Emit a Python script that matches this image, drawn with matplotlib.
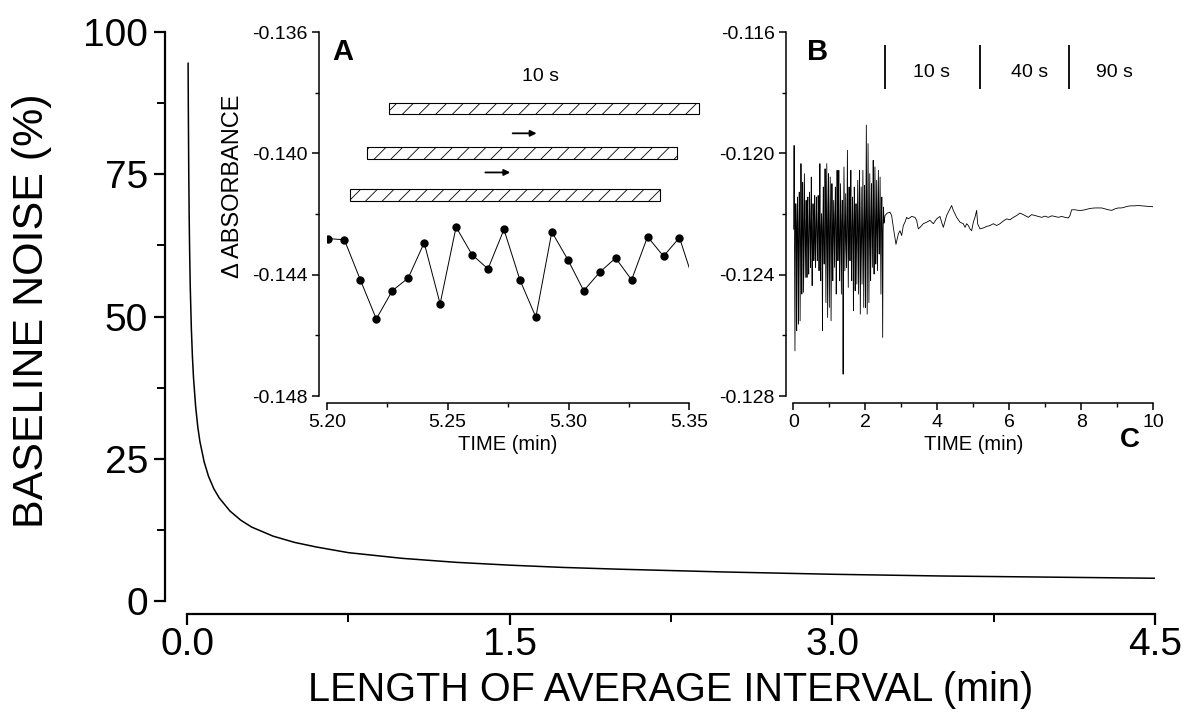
import numpy as np
import matplotlib.pyplot as plt
from matplotlib.patches import Rectangle
from matplotlib.ticker import MultipleLocator

plt.rcParams['font.family'] = ['Liberation Sans', 'DejaVu Sans']
plt.rcParams['hatch.linewidth'] = 0.6

# main plot: noise vs length of average interval
interval_min = [0.005, 0.006, 0.008, 0.01, 0.012, 0.015, 0.02, 0.025, 0.03, 0.04,
                0.05, 0.06, 0.08, 0.1, 0.125, 0.15, 0.2, 0.25, 0.3, 0.4, 0.5, 0.6,
                0.75, 1.0, 1.25, 1.5, 1.75, 2.0, 2.5, 3.0, 3.5, 4.0, 4.5]
noise_pct = [94.5, 86.8, 75.3, 67.5, 61.7, 55.2, 48.0, 43.0, 39.3, 34.2,
             30.6, 28.0, 24.4, 21.9, 19.7, 18.1, 15.8, 14.2, 13.0, 11.4, 10.3, 9.5,
             8.5, 7.5, 6.8, 6.3, 5.9, 5.6, 5.1, 4.7, 4.4, 4.2, 4.0]

# inset A: sampled absorbance
time_a = [5.2007, 5.2073, 5.2139, 5.2205, 5.2271, 5.2337, 5.2403, 5.2469, 5.2535,
          5.2601, 5.2667, 5.2733, 5.2799, 5.2865, 5.2931, 5.2997, 5.3063, 5.3129,
          5.3195, 5.3261, 5.3327, 5.3393, 5.3459, 5.3525]
abs_a = [-0.14281, -0.14285, -0.14417, -0.14546, -0.14453, -0.14411, -0.14295,
         -0.14496, -0.14243, -0.14334, -0.14381, -0.14251, -0.14417, -0.14540,
         -0.14259, -0.14350, -0.14453, -0.14392, -0.14345, -0.14417, -0.14275,
         -0.14339, -0.14278, -0.14440]
# 10 s averaging windows
win_start = [5.2259, 5.2167, 5.2096]
win_end = [5.3541, 5.3448, 5.3379]
win_low = [-0.13871, -0.14020, -0.14158]
win_high = [-0.13833, -0.13980, -0.14118]
arrow_x0 = [5.2769, 5.2656]
arrow_x1 = [5.2868, 5.2759]
arrow_y = [-0.13934, -0.14063]

# inset B: raw trace (first 2.5 min, 1e-5 absorbance units), then averaged part
noise_e5 = [
    -12250, -11974, -12300, -12651, -12280, -12166, -12230, -12585, -12260,
    -12144, -12310, -12563, -12240, -12128, -12270, -12552, -12300,
    -12034, -12220, -12464, -12250, -12095, -12290, -12458, -12230,
    -12067, -12260, -12409, -12280, -12155, -12240, -12409, -12200,
    -12144, -12300, -12398, -12250, -12128, -12220, -12376, -12270,
    -12078, -12290, -12436, -12240, -12166, -12210, -12354, -12260,
    -12139, -12300, -12376, -12230, -12144, -12250, -12354, -12280,
    -12139, -12220, -12387, -12260, -12034, -12300, -12420, -12240,
    -12199, -12270, -12585, -12230, -12111, -12300, -12365, -12250,
    -12051, -12210, -12492, -12280, -12034, -12260, -12541, -12220,
    -12067, -12290, -12508, -12250, -12078, -12240, -12552, -12300,
    -12100, -12230, -12420, -12260, -12155, -12280, -12376, -12210,
    -12111, -12250, -12464, -12290, -12056, -12230, -12354, -12260,
    -12056, -12300, -12420, -12240, -12100, -12270, -12464, -12220,
    -12155, -12250, -12728, -12290, -12045, -12230, -12387, -12260,
    -12133, -12300, -12376, -12240, -11990, -12220, -12442, -12270,
    -12111, -12260, -12354, -12230, -12056, -12290, -12420, -12250,
    -12144, -12240, -12519, -12280, -12111, -12220, -12453, -12260,
    -12166, -12300, -12431, -12240, -12089, -12250, -12464, -12270,
    -12056, -12230, -12530, -12290, -12111, -12260, -12431, -12220,
    -12056, -12280, -12508, -12250, -12106, -12240, -12508, -12230,
    -11907, -12260, -12530, -12270, -11968, -12230, -12492, -12250,
    -12067, -12280, -12420, -12220, -12100, -12250, -12376, -12240,
    -12023, -12270, -12398, -12230, -12045, -12220, -12365, -12260,
    -12089, -12250, -12387, -12240, -12056, -12230, -12332, -12210,
    -12078, -12260, -12464, -12230, -12144, -12250, -12607, -12260,
    -12177, -12230, -12221]
noise_t0, noise_t1 = 0.01, 2.53

avg_t = [2.547, 2.611, 2.686, 2.731, 2.778, 2.852, 2.917, 2.963, 3.009, 3.056,
         3.102, 3.148, 3.194, 3.287, 3.380, 3.426, 3.472, 3.519, 3.611, 3.704,
         3.796, 3.889, 3.981, 4.074, 4.120, 4.167, 4.259, 4.352, 4.398, 4.444,
         4.537, 4.630, 4.722, 4.769, 4.815, 4.861, 4.907, 4.954, 5.000, 5.046,
         5.093, 5.120, 5.185, 5.278, 5.370, 5.463, 5.556, 5.648, 5.741, 5.833,
         5.926, 6.019, 6.111, 6.204, 6.296, 6.389, 6.528, 6.620, 6.713, 6.806,
         6.898, 6.991, 7.083, 7.176, 7.269, 7.361, 7.454, 7.546, 7.639, 7.685,
         7.731, 7.824, 7.917, 8.009, 8.102, 8.194, 8.287, 8.380, 8.472, 8.565,
         8.657, 8.750, 8.843, 8.935, 9.028, 9.120, 9.213, 9.306, 9.398, 9.491,
         9.583, 9.676, 9.769, 9.861, 9.954, 10.0]
avg_e5 = [-12205, -12197, -12194, -12205, -12244, -12300, -12266, -12255, -12271, -12238,
          -12227, -12211, -12216, -12208, -12211, -12221, -12249, -12244, -12232, -12227,
          -12221, -12232, -12216, -12208, -12227, -12244, -12205, -12183, -12172, -12188,
          -12211, -12227, -12232, -12244, -12232, -12238, -12249, -12255, -12227, -12211,
          -12188, -12232, -12249, -12246, -12241, -12238, -12232, -12238, -12232, -12223,
          -12216, -12219, -12211, -12205, -12197, -12202, -12211, -12202, -12205, -12208,
          -12211, -12207, -12211, -12206, -12208, -12211, -12208, -12211, -12213, -12205,
          -12186, -12186, -12188, -12188, -12186, -12183, -12181, -12180, -12180, -12180,
          -12183, -12186, -12188, -12183, -12180, -12180, -12177, -12174, -12173, -12173,
          -12172, -12173, -12174, -12175, -12175, -12177]
marker_t = [2.56, 5.19, 7.67]
marker_labels = ['10 s', '40 s', '90 s']
label_t = [3.85, 6.57, 8.92]

fig = plt.figure(figsize=(11.89, 7.16), dpi=100)

# ---- main axes
ax = fig.add_axes([0.1573, 0.1606, 0.8141, 0.7947])
ax.plot(interval_min, noise_pct, color='black', lw=1.1)
ax.set_xlim(0, 4.5)
ax.set_ylim(0, 100)
ax.spines[['top', 'right']].set_visible(False)
ax.spines['left'].set_position(('outward', 16))
ax.spines['bottom'].set_position(('outward', 9))
for s in ('left', 'bottom'):
    ax.spines[s].set_linewidth(1.6)
ax.xaxis.set_major_locator(MultipleLocator(1.5))
ax.xaxis.set_minor_locator(MultipleLocator(0.75))
ax.yaxis.set_major_locator(MultipleLocator(25))
ax.yaxis.set_minor_locator(MultipleLocator(12.5))
ax.xaxis.set_major_formatter(plt.FuncFormatter(lambda v, p: f'{v:.1f}'))
ax.tick_params(which='major', direction='out', length=8, width=1.6, labelsize=28, pad=2)
ax.tick_params(which='minor', direction='out', length=5.5, width=1.4)
ax.tick_params(axis='y', which='major', pad=4)
ax.set_xlabel('LENGTH OF AVERAGE INTERVAL (min)', fontsize=28.5)
ax.set_ylabel('BASELINE NOISE (%)', fontsize=31)
ax.xaxis.set_label_coords(0.5, -0.123)
ax.yaxis.set_label_coords(-0.139, 0.51)
ax.patch.set_visible(False)
fig.text(1130 / 1189, 1 - 440 / 716, 'C', fontsize=20, fontweight='bold',
         ha='center', va='center')


def style_inset(a):
    a.patch.set_visible(False)
    a.spines[['top', 'right']].set_visible(False)
    a.spines['left'].set_position(('outward', 5.5))
    a.spines['bottom'].set_position(('outward', 5))
    for s in ('left', 'bottom'):
        a.spines[s].set_linewidth(1.1)
    a.tick_params(which='major', direction='out', length=5, width=1.1, labelsize=14, pad=3)
    a.tick_params(which='minor', direction='out', length=3, width=1.0)
    a.set_xlabel('TIME (min)', fontsize=14.5, labelpad=3)


# ---- inset A
axa = fig.add_axes([0.2748, 0.4469, 0.3050, 0.5084])
style_inset(axa)
axa.plot(time_a, abs_a, color='black', lw=0.7, marker='o', ms=5, mfc='black', mec='black')
axa.set_xlim(5.20, 5.35)
axa.set_ylim(-0.148, -0.136)
axa.xaxis.set_major_locator(MultipleLocator(0.05))
axa.xaxis.set_minor_locator(MultipleLocator(0.025))
axa.yaxis.set_major_locator(MultipleLocator(0.004))
axa.yaxis.set_minor_locator(MultipleLocator(0.002))
axa.xaxis.set_major_formatter(plt.FuncFormatter(lambda v, p: f'{v:.2f}'))
axa.yaxis.set_major_formatter(plt.FuncFormatter(lambda v, p: f'{v:.3f}'))
axa.set_ylabel('\u0394 ABSORBANCE', fontsize=17)
axa.yaxis.set_label_coords(-0.228, 0.577)
for x0, x1, lo, hi in zip(win_start, win_end, win_low, win_high):
    axa.add_patch(Rectangle((x0, lo), x1 - x0, hi - lo, facecolor='white',
                            edgecolor='black', lw=0.8, hatch='//', clip_on=False))
for x0, x1, y in zip(arrow_x0, arrow_x1, arrow_y):
    axa.annotate('', xy=(x1, y), xytext=(x0, y),
                 arrowprops=dict(arrowstyle='-|>', color='black', lw=1.3,
                                 mutation_scale=9, shrinkA=0, shrinkB=0))
axa.text(5.2883, -0.13748, '10 s', fontsize=14, ha='center', va='center')
axa.text(5.2065, -0.13665, 'A', fontsize=21, fontweight='bold', ha='center', va='center')

# ---- inset B
axb = fig.add_axes([0.6672, 0.4469, 0.3028, 0.5084])
style_inset(axb)
noise_t = np.linspace(noise_t0, noise_t1, len(noise_e5))
trace_t = np.concatenate([noise_t, avg_t])
trace_v = np.concatenate([noise_e5, avg_e5]) * 1e-5
axb.plot(trace_t, trace_v, color='black', lw=0.6)
axb.set_xlim(0, 10)
axb.set_ylim(-0.128, -0.116)
axb.xaxis.set_major_locator(MultipleLocator(2))
axb.xaxis.set_minor_locator(MultipleLocator(1))
axb.yaxis.set_major_locator(MultipleLocator(0.004))
axb.yaxis.set_minor_locator(MultipleLocator(0.002))
axb.yaxis.set_major_formatter(plt.FuncFormatter(lambda v, p: f'{v:.3f}'))
axb.vlines(marker_t, -0.11787, -0.11643, color='black', lw=1.3)
for t, lab in zip(label_t, marker_labels):
    axb.text(t, -0.11735, lab, fontsize=14, ha='center', va='center')
axb.text(0.66, -0.11665, 'B', fontsize=21, fontweight='bold', ha='center', va='center')

fig.savefig('out.png', dpi=100)
